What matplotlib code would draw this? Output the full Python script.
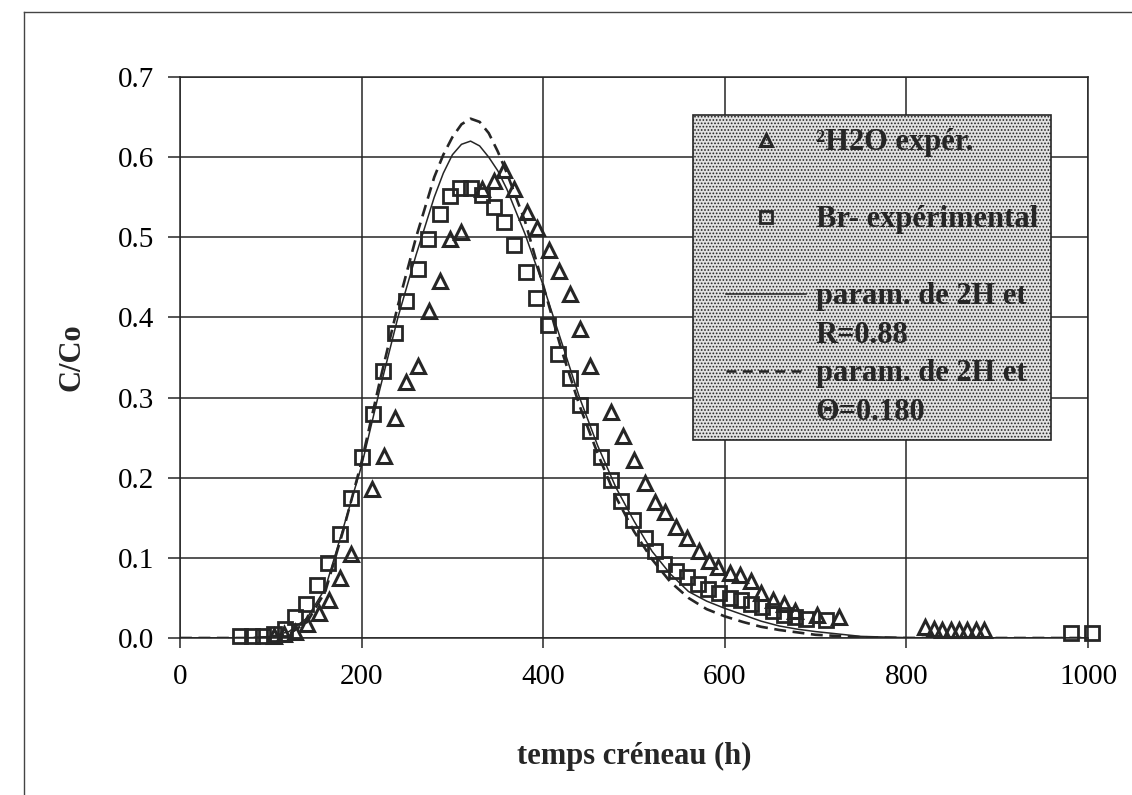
import numpy as np
import matplotlib
matplotlib.use("Agg")
import matplotlib.pyplot as plt
from matplotlib.lines import Line2D
from matplotlib.legend_handler import HandlerLine2D

# ---------------- data ----------------
h2o_x = [103, 115, 127, 140, 153, 164, 176, 188,
         212, 225, 237, 249, 262, 274, 286, 297, 309,
         333, 346, 357, 368, 382, 393, 406, 417, 430, 441, 452,
         475, 488, 500, 512, 523, 534, 546, 558, 572, 583, 593, 606, 617, 629, 640, 653, 665, 677,
         701, 726,
         820, 830, 839, 849, 858, 867, 877, 886]
h2o_y = [0.003, 0.005, 0.008, 0.017, 0.031, 0.048, 0.075, 0.105,
         0.186, 0.227, 0.275, 0.320, 0.340, 0.408, 0.445, 0.498, 0.507,
         0.560, 0.570, 0.584, 0.560, 0.531, 0.512, 0.484, 0.458, 0.429, 0.386, 0.340,
         0.282, 0.252, 0.222, 0.193, 0.170, 0.157, 0.139, 0.125, 0.109, 0.096, 0.088, 0.081, 0.078, 0.071, 0.056, 0.048, 0.043, 0.034,
         0.029, 0.026,
         0.014, 0.011, 0.010, 0.010, 0.010, 0.010, 0.010, 0.010]

br_x = [66, 79, 91, 103, 116, 127, 139, 151, 163, 176, 188, 200, 213, 224, 237, 249, 262, 273,
        286, 297, 308, 321, 333, 346, 357, 368, 381, 392, 405, 416, 429, 441, 451, 464, 475, 486,
        499, 512, 523, 533, 546, 558, 570, 582, 594, 606, 618, 629, 641, 653, 665, 677, 689, 712,
        981, 1004]
br_y = [0.002, 0.002, 0.002, 0.005, 0.011, 0.026, 0.043, 0.066, 0.094, 0.130, 0.175, 0.226, 0.280, 0.333, 0.380, 0.420, 0.461, 0.498,
        0.529, 0.551, 0.561, 0.561, 0.553, 0.538, 0.519, 0.490, 0.457, 0.424, 0.390, 0.354, 0.325, 0.291, 0.258, 0.226, 0.197, 0.171,
        0.147, 0.125, 0.109, 0.092, 0.084, 0.076, 0.067, 0.061, 0.056, 0.050, 0.047, 0.042, 0.039, 0.034, 0.029, 0.026, 0.024, 0.022,
        0.006, 0.006]

model_x = [0, 60, 80, 100, 120, 140, 160, 180, 200, 220, 240, 260, 280, 290, 300, 310, 320, 330, 340, 350, 360, 380,
           400, 420, 440, 460, 480, 500, 520, 540, 560, 580, 600, 620, 640, 660, 680, 700,
           750, 800, 850, 900, 950, 1000]
model_R = [0, 0, 0.0005, 0.002, 0.008, 0.025, 0.062, 0.138, 0.215, 0.310, 0.400, 0.478, 0.550, 0.580, 0.603, 0.616, 0.620, 0.614, 0.600, 0.583, 0.560, 0.504,
           0.440, 0.370, 0.300, 0.240, 0.188, 0.146, 0.108, 0.080, 0.058, 0.046, 0.037, 0.029, 0.021, 0.015, 0.011, 0.008,
           0.002, 0.0005, 0, 0, 0, 0]
model_theta = [0, 0, 0, 0.001, 0.005, 0.020, 0.058, 0.135, 0.220, 0.320, 0.415, 0.500, 0.575, 0.603, 0.625, 0.641, 0.648, 0.644, 0.630, 0.607, 0.580, 0.520,
               0.440, 0.360, 0.290, 0.230, 0.176, 0.133, 0.098, 0.070, 0.050, 0.036, 0.027, 0.020, 0.014, 0.010, 0.007, 0.004,
               0.001, 0, 0, 0, 0, 0]

x_ticks = [0, 200, 400, 600, 800, 1000]
y_ticks = [0.0, 0.1, 0.2, 0.3, 0.4, 0.5, 0.6, 0.7]

labels = ["\u00b2H2O exp\u00e9r.\n", "Br- exp\u00e9rimental\n",
          "param. de 2H et\nR=0.88", "param. de 2H et\n\u0398=0.180"]

# ---------------- style ----------------
plt.rcParams['font.family'] = ['Liberation Serif', 'DejaVu Serif']
plt.rcParams['hatch.linewidth'] = 0.8
ink = '#262626'

W, H = 1132, 795
fig = plt.figure(figsize=(W / 100, H / 100), dpi=100)
ax = fig.add_axes([180 / W, 1 - 638 / H, 908 / W, 561 / H])

ax.plot(model_x, model_R, color=ink, lw=1.1, zorder=3)
ax.plot(model_x, model_theta, color=ink, lw=1.9, dashes=(4.5, 2.5), zorder=3)
ax.plot(h2o_x, h2o_y, linestyle='none', marker='^', markersize=9.5, markerfacecolor='none',
        markeredgecolor=ink, markeredgewidth=2.2, zorder=4, clip_on=False)
ax.plot(br_x, br_y, linestyle='none', marker='s', markersize=9.5, markerfacecolor='none',
        markeredgecolor=ink, markeredgewidth=2.0, zorder=4, clip_on=False)

ax.set_xlim(0, 1000)
ax.set_ylim(0, 0.7)
ax.set_xticks(x_ticks)
ax.set_yticks(y_ticks)
ax.set_xticklabels([str(v) for v in x_ticks])
ax.set_yticklabels([f"{v:.1f}" for v in y_ticks])
ax.grid(True, color=ink, lw=1.1)
ax.set_axisbelow(True)
for s in ax.spines.values():
    s.set_color(ink)
    s.set_linewidth(1.1)
ax.tick_params(axis='x', direction='out', length=7, width=1.1, color=ink, pad=12, labelsize=21)
ax.tick_params(axis='y', direction='out', length=8.5, width=1.1, color=ink, pad=10, labelsize=21)

ax.set_xlabel("temps cr\u00e9neau (h)", fontsize=22, fontweight='bold', color=ink)
ax.xaxis.set_label_coords(0.5, -0.186)
ax.set_ylabel("C/Co", fontsize=22, fontweight='bold', color=ink)
ax.yaxis.set_label_coords(-0.103, 0.5)


class FirstLineHandler(HandlerLine2D):
    def create_artists(self, legend, orig_handle, xdescent, ydescent, width, height, fontsize, trans):
        arts = super().create_artists(legend, orig_handle, xdescent, ydescent, width, height,
                                      fontsize, trans)
        shift = 0.72 * fontsize
        x0 = -xdescent + 0.2 * width
        x1 = -xdescent + width
        for a in arts:
            n = len(a.get_xdata())
            yd = np.asarray(a.get_ydata(), dtype=float) + shift
            if n == 1:
                a.set_xdata([0.5 * (x0 + x1)])
            else:
                a.set_xdata(np.linspace(x0, x1, n))
            a.set_ydata(yd)
        return arts


h_tri = Line2D([], [], linestyle='none', marker='^', markersize=8.5, markerfacecolor='none',
               markeredgecolor=ink, markeredgewidth=2.2)
h_sq = Line2D([], [], linestyle='none', marker='s', markersize=8, markerfacecolor='none',
              markeredgecolor=ink, markeredgewidth=2.0)
h_sol = Line2D([], [], color=ink, lw=1.1)
h_das = Line2D([], [], color=ink, lw=1.8, dashes=(4, 2.5))

hm = FirstLineHandler()
leg = ax.legend([h_tri, h_sq, h_sol, h_das], labels,
                loc='upper left', bbox_to_anchor=(0.565, 0.932), borderaxespad=0,
                prop={'family': ['Liberation Serif', 'DejaVu Serif'], 'weight': 'bold', 'size': 22},
                handlelength=3.27, handletextpad=0.33, labelspacing=0.3, borderpad=0.42,
                numpoints=1, fancybox=False, framealpha=1,
                handler_map={h_tri: hm, h_sq: hm, h_sol: hm, h_das: hm})
fr = leg.get_frame()
fr.set_facecolor('#e2e2e2')
fr.set_edgecolor(ink)
fr.set_linewidth(1.2)
fr.set_hatch('.....')
for t in leg.get_texts():
    t.set_linespacing(1.45)
    t.set_color(ink)

# outer frame (top and left edges)
fig.add_artist(Line2D([24 / W, 1.0], [1 - 12 / H, 1 - 12 / H], transform=fig.transFigure,
                      color='#444444', lw=1.0))
fig.add_artist(Line2D([24 / W, 24 / W], [0.0, 1 - 12 / H], transform=fig.transFigure,
                      color='#444444', lw=1.0))

fig.savefig("out.png", dpi=100, facecolor='white')
